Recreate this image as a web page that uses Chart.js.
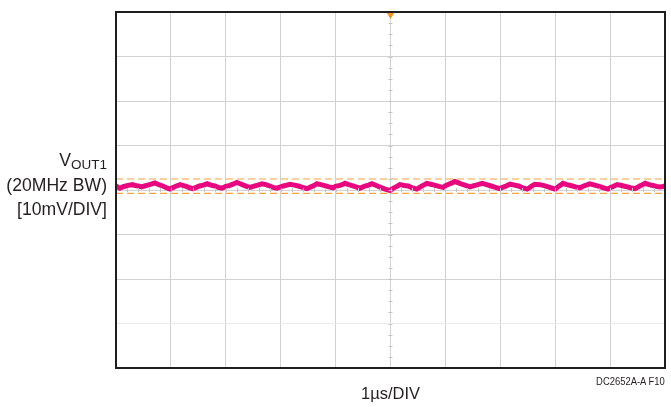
<!DOCTYPE html>
<html>
<head>
<meta charset="utf-8">
<script src="https://cdn.jsdelivr.net/npm/chart.js@4/dist/chart.umd.min.js"></script>
<style>
  html, body { margin:0; padding:0; background:#fff; }
  #wrap { position:relative; width:671px; height:407px; font-family:"Liberation Sans", Arial, sans-serif; color:#231f20; }
  canvas { position:absolute; left:0; top:0; }
  .lbl { position:absolute; white-space:nowrap; }
  #ylab { right:564px; top:148px; text-align:right; font-size:17.6px; line-height:24.5px; }
  #ylab sub { font-size:13.5px; vertical-align:-3px; line-height:0; }
  #xlab { left:0; width:781px; top:384px; text-align:center; font-size:16.5px; }
  #code { right:6px; top:375px; font-size:11.5px; transform:scaleX(0.82); transform-origin:right center; }
</style>
</head>
<body>
<div id="wrap">
  <canvas id="c" width="671" height="407"></canvas>
  <div class="lbl" id="ylab">V<sub>OUT1</sub><br>(20MHz BW)<br>[10mV/DIV]</div>
  <div class="lbl" id="xlab">1µs/DIV</div>
  <div class="lbl" id="code">DC2652A-A F10</div>
</div>
<script>
// time in divisions (1 µs/DIV), voltage in mV (10 mV/DIV)
const traceTime = [0, 0.04, 0.07, 0.12, 0.18, 0.24, 0.30, 0.35, 0.40, 0.47, 0.52, 0.58, 0.64, 0.71, 0.78, 0.85, 0.92, 0.98, 1.08, 1.12, 1.17, 1.23, 1.28, 1.34, 1.40, 1.46, 1.52, 1.59, 1.66, 1.73, 1.80, 1.86, 1.93, 2.00, 2.06, 2.13, 2.20, 2.26, 2.32, 2.38, 2.44, 2.50, 2.55, 2.61, 2.66, 2.73, 2.80, 2.86, 2.93, 3.00, 3.05, 3.11, 3.17, 3.25, 3.32, 3.40, 3.48, 3.53, 3.57, 3.62, 3.66, 3.73, 3.80, 3.88, 3.95, 4.00, 4.06, 4.12, 4.17, 4.24, 4.30, 4.37, 4.44, 4.50, 4.55, 4.60, 4.66, 4.74, 4.82, 4.90, 4.99, 5.04, 5.08, 5.13, 5.17, 5.25, 5.32, 5.40, 5.48, 5.53, 5.57, 5.62, 5.66, 5.73, 5.80, 5.88, 5.96, 6.01, 6.06, 6.12, 6.17, 6.24, 6.30, 6.38, 6.45, 6.50, 6.56, 6.62, 6.67, 6.75, 6.83, 6.91, 6.99, 7.04, 7.09, 7.14, 7.18, 7.26, 7.33, 7.41, 7.49, 7.53, 7.56, 7.60, 7.63, 7.72, 7.80, 7.90, 8.00, 8.04, 8.07, 8.11, 8.14, 8.21, 8.28, 8.37, 8.45, 8.50, 8.54, 8.59, 8.63, 8.72, 8.80, 8.88, 8.96, 9.00, 9.04, 9.09, 9.13, 9.21, 9.28, 9.37, 9.45, 9.50, 9.54, 9.59, 9.64, 9.71, 9.78, 9.85, 9.91, 9.96, 10.0];
const traceMv = [0.9, 0.6, 0.4, 0.7, 0.9, 1.1, 1.2, 1.0, 0.9, 0.7, 0.9, 1.1, 1.3, 1.6, 1.2, 0.9, 0.5, 0.2, 0.8, 1.0, 1.2, 1.0, 0.8, 0.5, 0.3, 0.6, 0.9, 1.1, 1.4, 1.1, 0.9, 0.6, 0.4, 0.8, 1.0, 1.3, 1.7, 1.4, 1.1, 0.8, 0.6, 0.8, 1.0, 1.2, 1.4, 1.2, 0.9, 0.6, 0.4, 0.7, 0.9, 1.1, 1.3, 1.1, 0.9, 0.6, 0.3, 0.6, 0.8, 1.1, 1.4, 1.2, 1.0, 0.7, 0.5, 0.8, 1.0, 1.2, 1.5, 1.2, 1.0, 0.7, 0.4, 0.7, 0.9, 1.1, 1.4, 1.0, 0.6, 0.2, -0.1, 0.3, 0.6, 0.9, 1.2, 1.0, 0.9, 0.5, 0.2, 0.6, 0.9, 1.2, 1.5, 1.3, 1.1, 0.8, 0.6, 1.0, 1.3, 1.6, 1.9, 1.6, 1.3, 1.0, 0.7, 0.9, 1.1, 1.3, 1.5, 1.2, 0.9, 0.6, 0.3, 0.6, 0.8, 1.1, 1.3, 1.1, 0.9, 0.5, 0.2, 0.5, 0.8, 1.1, 1.3, 1.2, 1.0, 0.6, 0.2, 0.6, 0.9, 1.2, 1.5, 1.2, 1.0, 0.7, 0.5, 0.8, 1.0, 1.2, 1.4, 1.1, 0.8, 0.5, 0.2, 0.5, 0.7, 1.0, 1.2, 1.0, 0.8, 0.5, 0.3, 0.6, 0.9, 1.2, 1.5, 1.2, 1.0, 0.8, 0.7, 0.8, 0.9];
const cursorLevels = [2.47, -0.74];
const triggerTime = [5];
const xDivs = [0, 10];
const yRange = [-40, 40];

const traceData = traceTime.map((t, i) => ({ x: t, y: traceMv[i] }));
const cursorSets = cursorLevels.map(v => ({
  type: 'line',
  data: [{ x: xDivs[0], y: v }, { x: xDivs[1], y: v }],
  borderColor: '#f5a43e',
  borderWidth: 1.2,
  borderDash: [7, 4],
  pointRadius: 0,
  fill: false
}));

const framePlugin = {
  id: 'frame',
  afterDraw(chart) {
    const { ctx, chartArea: a, scales: { x, y } } = chart;
    ctx.save();
    // minor ticks on the center lines
    ctx.strokeStyle = '#c4c4c4';
    ctx.lineWidth = 1;
    const cx = x.getPixelForValue(5), cy = y.getPixelForValue(0);
    ctx.beginPath();
    for (let v = -40; v <= 40; v += 2.5) {
      const py = Math.round(y.getPixelForValue(v)) + 0.5;
      ctx.moveTo(cx - 2, py); ctx.lineTo(cx + 2, py);
    }
    for (let t = 0; t <= 10; t += 0.2) {
      const px = Math.round(x.getPixelForValue(t)) + 0.5;
      ctx.moveTo(px, cy - 2); ctx.lineTo(px, cy + 2);
    }
    ctx.stroke();
    ctx.strokeStyle = '#1e1e1e';
    ctx.lineWidth = 2;
    ctx.strokeRect(a.left, a.top, a.right - a.left, a.bottom - a.top);
    ctx.restore();
  }
};

new Chart(document.getElementById('c'), {
  type: 'scatter',
  data: {
    datasets: [
      ...cursorSets,
      {
        type: 'line',
        data: traceData,
        borderColor: '#e8077f',
        borderWidth: 5,
        pointRadius: 0,
        tension: 0,
        fill: false
      },
      {
        data: triggerTime.map(t => ({ x: t, y: yRange[1] - 0.4 })),
        pointStyle: 'triangle',
        rotation: 180,
        pointRadius: 4.5,
        backgroundColor: '#f7931e',
        borderColor: '#f7931e',
        clip: false
      }
    ]
  },
  options: {
    responsive: false,
    animation: false,
    events: [],
    layout: { padding: { left: 116, top: 12, right: 6, bottom: 39 } },
    plugins: { legend: { display: false }, tooltip: { enabled: false } },
    scales: {
      x: {
        type: 'linear', min: xDivs[0], max: xDivs[1],
        ticks: { display: false, stepSize: 1 },
        grid: { color: '#d2d2d2', lineWidth: 1, drawTicks: false },
        border: { display: false }
      },
      y: {
        type: 'linear', min: yRange[0], max: yRange[1],
        ticks: { display: false, stepSize: 10 },
        grid: { color: ctx => (ctx.tick && ctx.tick.value === -30 ? '#ececec' : '#d2d2d2'), lineWidth: 1, drawTicks: false },
        border: { display: false }
      }
    }
  },
  plugins: [framePlugin]
});
</script>
</body>
</html>
